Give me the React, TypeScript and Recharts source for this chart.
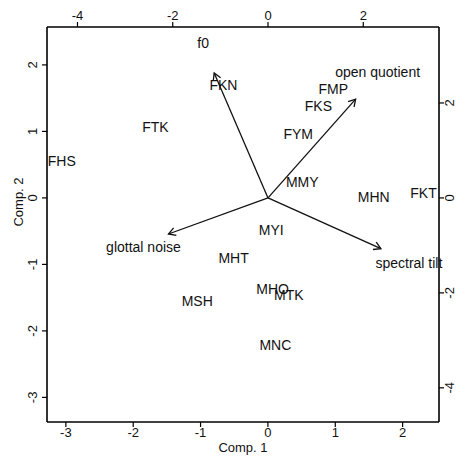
import React from 'react';
import { ScatterChart, Scatter, XAxis, YAxis } from 'recharts';

// Scores (observations)
const scoreNames = ['FHS', 'FTK', 'FKN', 'FMP', 'FKS', 'FYM', 'MMY', 'MHN', 'FKT', 'MYI', 'MHT', 'MSH', 'MHO', 'MTK', 'MNC'];
const comp1 = [-3.06, -1.67, -0.66, 0.97, 0.75, 0.45, 0.51, 1.57, 2.31, 0.05, -0.51, -1.05, 0.07, 0.31, 0.11];
const comp2 = [0.56, 1.07, 1.70, 1.64, 1.38, 0.96, 0.24, 0.02, 0.08, -0.48, -0.90, -1.55, -1.37, -1.46, -2.21];

// Loadings (variables)
const variableNames = ['f0', 'open quotient', 'glottal noise', 'spectral tilt'];
const load1 = [-1.13, 1.84, -2.09, 2.37];
const load2 = [2.63, 2.08, -0.76, -1.07];

const scoreTicks = [-3, -2, -1, 0, 1, 2];
const loadingTicks = [-4, -2, 0, 2];
const scoreXDomain = [-3.28, 2.54];
const scoreYDomain = [-3.37, 2.57];
const loadXDomain = [-4.64, 3.59];
const loadYDomain = [-4.72, 3.6];

const FONT = '"Liberation Sans", Arial, Helvetica, sans-serif';

const labelOffset: Record<string, [number, number]> = {
  'f0': [-11, -30],
  'open quotient': [22, -27],
  'glottal noise': [-25, 13],
  'spectral tilt': [28, 14],
};

const scoreData = scoreNames.map((n, i) => ({ name: n, x: comp1[i], y: comp2[i] }));
const arrowSeries = variableNames.map((n, i) => [
  { name: n, x: 0, y: 0, tip: false },
  { name: n, x: load1[i], y: load2[i], tip: true },
]);

const ScoreLabel = (props: any) => {
  const { cx, cy, payload } = props;
  return (
    <text x={cx} y={cy} dy="0.36em" textAnchor="middle" fontSize={14} fontFamily={FONT} fill="#111">
      {payload.name}
    </text>
  );
};

const ArrowTip = (props: any) => {
  const { cx, cy, payload } = props;
  if (!payload.tip) return <g />;
  const ang = Math.atan2(-payload.y, payload.x);
  const back = ang + Math.PI;
  const L = 8;
  const a = Math.PI / 6;
  const x1 = cx + L * Math.cos(back - a);
  const y1 = cy + L * Math.sin(back - a);
  const x2 = cx + L * Math.cos(back + a);
  const y2 = cy + L * Math.sin(back + a);
  const off = labelOffset[payload.name] || [0, 0];
  return (
    <g>
      <path d={`M${x1},${y1}L${cx},${cy}L${x2},${y2}`} stroke="#111" strokeWidth={1.3} fill="none" />
      <text x={cx + off[0]} y={cy + off[1]} dy="0.35em" textAnchor="middle" fontSize={14} fontFamily={FONT} fill="#111">
        {payload.name}
      </text>
    </g>
  );
};

const LeftTick = (p: any) => (
  <text x={p.x} y={p.y} transform={`rotate(-90 ${p.x} ${p.y})`} textAnchor="middle" fontSize={13} fontFamily={FONT} fill="#111">
    {p.payload.value}
  </text>
);

const axisCommon = {
  stroke: '#000',
  axisLine: { stroke: '#000', strokeWidth: 1.6 },
  tickLine: { stroke: '#000', strokeWidth: 1.2 },
  tickSize: 5,
};

export default function App() {
  return (
    <div style={{ position: 'absolute', left: 0, top: 0, width: 457, height: 465, background: '#fff' }}>
      <ScatterChart width={457} height={465} margin={{ top: 0, right: 0, bottom: 0, left: 0 }}>
        <XAxis
          {...axisCommon}
          xAxisId="s"
          dataKey="x"
          type="number"
          orientation="bottom"
          height={43}
          domain={scoreXDomain}
          ticks={scoreTicks}
          tickMargin={1}
          tick={{ fontSize: 13, fontFamily: FONT, fill: '#111' }}
          label={{
            content: () => (
              <text x={243} y={452} textAnchor="middle" fontSize={13} fontFamily={FONT} fill="#111">Comp. 1</text>
            ),
          }}
        />
        <XAxis
          {...axisCommon}
          xAxisId="l"
          dataKey="x"
          type="number"
          orientation="top"
          height={27}
          domain={loadXDomain}
          ticks={loadingTicks}
          tickMargin={2}
          tick={{ fontSize: 13, fontFamily: FONT, fill: '#111' }}
        />
        <YAxis
          {...axisCommon}
          yAxisId="s"
          dataKey="y"
          type="number"
          orientation="left"
          width={47}
          domain={scoreYDomain}
          ticks={scoreTicks}
          tickMargin={5}
          tick={<LeftTick />}
          label={{
            content: () => (
              <text x={23} y={202} transform="rotate(-90 23 202)" textAnchor="middle" fontSize={13} fontFamily={FONT} fill="#111">Comp. 2</text>
            ),
          }}
        />
        <YAxis
          {...axisCommon}
          yAxisId="l"
          dataKey="y"
          type="number"
          orientation="right"
          width={18}
          domain={loadYDomain}
          ticks={loadingTicks}
          tickMargin={10}
          tick={<LeftTick />}
        />
        <Scatter
          data={scoreData}
          xAxisId="s"
          yAxisId="s"
          shape={<ScoreLabel />}
          isAnimationActive={false}
        />
        {arrowSeries.map((d, i) => (
          <Scatter
            key={variableNames[i]}
            data={d}
            xAxisId="l"
            yAxisId="l"
            line={{ stroke: '#111', strokeWidth: 1.3 }}
            lineJointType="linear"
            shape={<ArrowTip />}
            isAnimationActive={false}
          />
        ))}
      </ScatterChart>
    </div>
  );
}
